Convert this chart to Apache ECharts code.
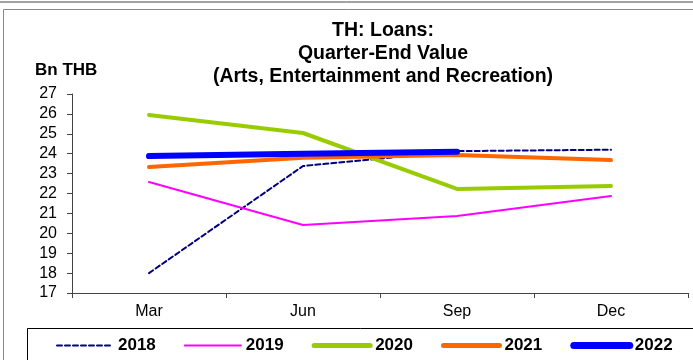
<!DOCTYPE html>
<html>
<head>
<meta charset="utf-8">
<script src="https://cdn.jsdelivr.net/npm/echarts@6/dist/echarts.min.js"></script>
<style>
  html, body { margin: 0; padding: 0; background: #fff; }
  #chart { width: 693px; height: 360px; }
</style>
</head>
<body>
<div id="chart"></div>
<script>
// quarter labels and values (Bn THB)
const quarters = ['Mar', 'Jun', 'Sep', 'Dec']
const y2018 = [18.0, 23.38, 24.13, 24.2]
const y2019 = [22.58, 20.42, 20.87, 21.87]
const y2020 = [25.94, 25.04, 22.23, 22.38]
const y2021 = [23.33, 23.8, 23.93, 23.68]
const y2022 = [23.88, 24.0, 24.1]

const font = 'Liberation Sans, Arial, sans-serif'

const chart = echarts.init(document.getElementById('chart'))

function line(name, data, color, width, type) {
  return {
    name: name,
    type: 'line',
    data: data,
    symbol: 'none',
    smooth: false,
    lineStyle: { color: color, width: width, type: type || 'solid', cap: 'round' },
    itemStyle: { color: color },
    animation: false
  }
}

function legendItem(name, color, width, type) {
  return {
    name: name,
    itemStyle: { opacity: 0 },
    lineStyle: { color: color, width: width, type: type || 'solid', cap: 'round' }
  }
}

chart.setOption({
  backgroundColor: '#fff',
  title: {
    text: 'TH: Loans:\nQuarter-End Value\n(Arts, Entertainment and Recreation)',
    left: 378,
    top: 14,
    textAlign: 'center',
    textStyle: { fontFamily: font, fontSize: 19.5, fontWeight: 'bold', color: '#000', lineHeight: 23 }
  },
  graphic: [
    { type: 'line', shape: { x1: 0, y1: 2, x2: 693, y2: 2 }, style: { stroke: '#444', lineWidth: 1 } },
    { type: 'rect', shape: { x: 3.5, y: 9.5, width: 700, height: 360 }, style: { fill: 'none', stroke: '#888', lineWidth: 1 } },
    { type: 'rect', shape: { x: 27.5, y: 328.5, width: 700, height: 40 }, style: { fill: 'none', stroke: '#000', lineWidth: 1 } },
    { type: 'text', left: 35, top: 62, style: { text: 'Bn THB', font: 'bold 17px ' + font, fill: '#000' } }
  ],
  legend: {
    left: 56,
    top: 337,
    padding: 0,
    itemWidth: 56,
    itemHeight: 16,
    itemGap: 28,
    textStyle: { fontFamily: font, fontSize: 17, fontWeight: 'bold', color: '#000' },
    data: [
      legendItem('2018', '#000080', 2, [5, 3]),
      legendItem('2019', '#ff00ff', 2),
      legendItem('2020', '#99cc00', 5),
      legendItem('2021', '#ff6600', 5),
      legendItem('2022', '#0000ff', 7)
    ]
  },
  grid: { left: 72, right: 5, top: 94, bottom: 67 },
  xAxis: {
    type: 'category',
    data: quarters,
    boundaryGap: true,
    axisLine: { lineStyle: { color: '#444', width: 1 } },
    axisTick: { show: true, length: 5, lineStyle: { color: '#444' } },
    axisLabel: { fontFamily: font, fontSize: 16, color: '#000', margin: 11 }
  },
  yAxis: {
    type: 'value',
    min: 17,
    max: 27,
    interval: 1,
    splitLine: { show: false },
    axisLine: { show: true, lineStyle: { color: '#444', width: 1 } },
    axisTick: { show: true, length: 5, lineStyle: { color: '#444' } },
    axisLabel: { fontFamily: font, fontSize: 16, color: '#000', margin: 15 }
  },
  series: [
    line('2018', y2018, '#000080', 2, [5, 3]),
    line('2019', y2019, '#ff00ff', 2),
    line('2020', y2020, '#99cc00', 4),
    line('2021', y2021, '#ff6600', 4),
    line('2022', y2022, '#0000ff', 6)
  ]
})
</script>
</body>
</html>
